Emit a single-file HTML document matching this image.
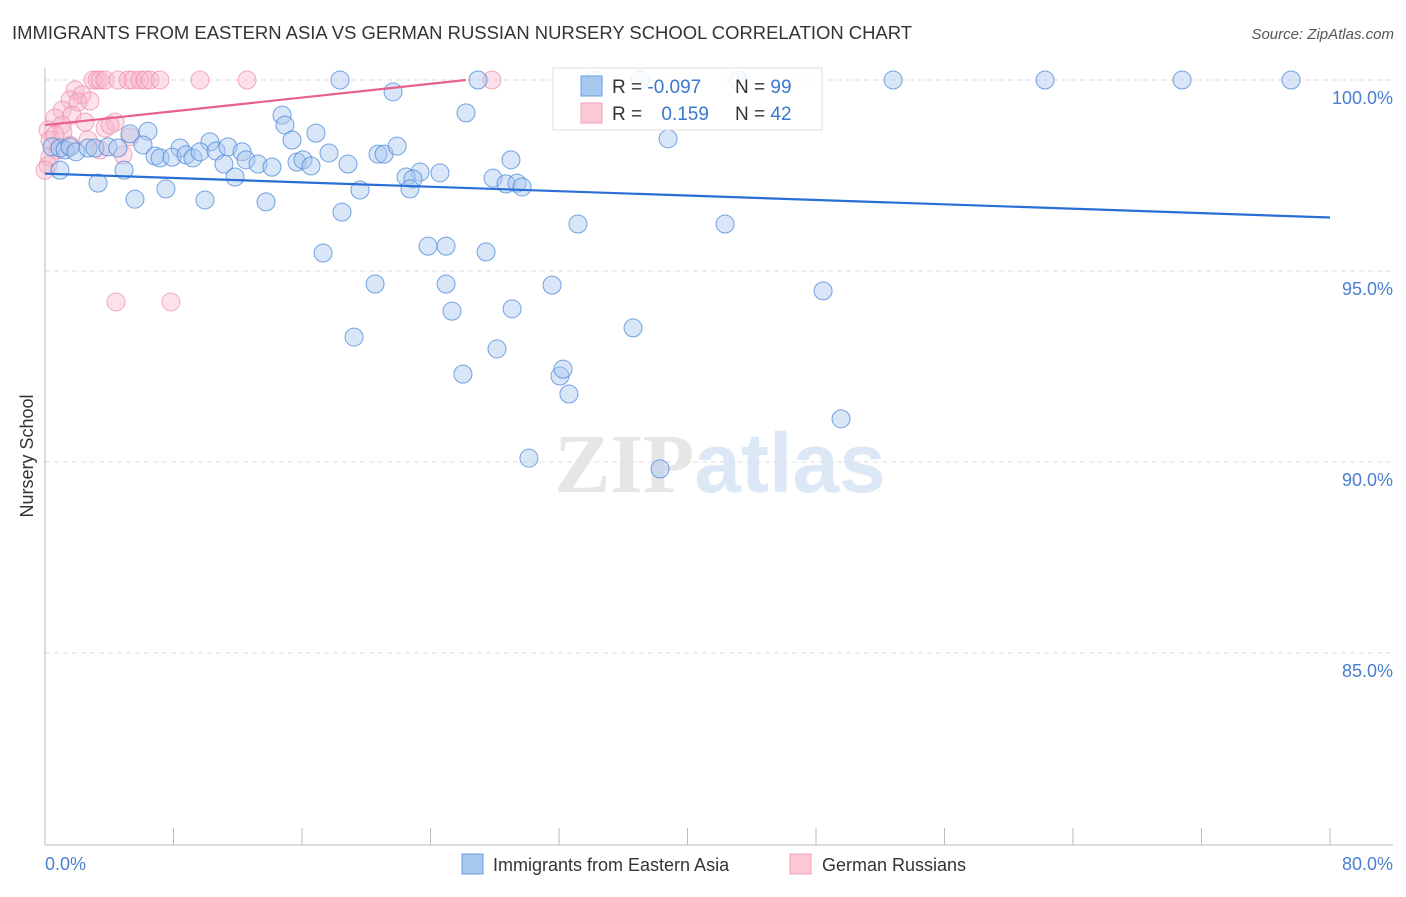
<!DOCTYPE html>
<html><head><meta charset="utf-8"><style>
body{margin:0;background:#fff;font-family:"Liberation Sans",sans-serif;}
svg text{font-family:"Liberation Sans",sans-serif;}
</style></head><body>
<svg id="chart" width="1406" height="892" xmlns="http://www.w3.org/2000/svg">
<text x="12" y="39" font-size="18" fill="#333" textLength="900" lengthAdjust="spacingAndGlyphs">IMMIGRANTS FROM EASTERN ASIA VS GERMAN RUSSIAN NURSERY SCHOOL CORRELATION CHART</text>
<text x="1394" y="39" font-size="15" fill="#555" font-style="italic" text-anchor="end">Source: ZipAtlas.com</text>
<text x="720" y="492" font-size="84" text-anchor="middle"><tspan fill="#e6e6e6" font-family="Liberation Serif" font-weight="bold">ZIP</tspan><tspan fill="#dde8f6" font-weight="bold">atlas</tspan></text>
<text transform="translate(33,456) rotate(-90)" font-size="18" fill="#333" text-anchor="middle">Nursery School</text>
<g id="grid"></g><g id="axes"></g><g id="pink"></g><g id="blue"></g><g id="trends"></g>
<g>
<rect x="553" y="68" width="269" height="62" fill="#fff" fill-opacity="0.85" stroke="#ddd"/>
<rect x="581" y="76" width="21" height="20" fill="#a9c8f0" stroke="#6a9ee0"/>
<rect x="581" y="103" width="21" height="20" fill="#fcc8d6" stroke="#f0a0b8"/>
<text x="612" y="93" font-size="19" fill="#333">R = <tspan fill="#3a78d0">-0.097</tspan></text>
<text x="735" y="93" font-size="19" fill="#333">N = <tspan fill="#3a78d0">99</tspan></text>
<text x="612" y="120" font-size="19" fill="#333">R = <tspan fill="#3a78d0" dx="14">0.159</tspan></text>
<text x="735" y="120" font-size="19" fill="#333">N = <tspan fill="#3a78d0">42</tspan></text>
</g>
<g>
<rect x="462" y="854" width="21" height="20" fill="#a9c8f0" stroke="#6a9ee0"/>
<text x="493" y="871" font-size="18" fill="#333">Immigrants from Eastern Asia</text>
<rect x="790" y="854" width="21" height="20" fill="#fcc8d6" stroke="#f0a0b8"/>
<text x="822" y="871" font-size="18" fill="#333">German Russians</text>
</g>
</svg>
<script>
const blueX=[18.37,34.18,37.04,43.15,52.80,62.26,70.79,77.58,26.96,21.67,26.21,14.76,14.94,6.41,5.29,16.87,10.27,15.38,38.79,0.44,0.93,1.25,1.56,1.93,2.68,3.11,3.92,4.54,6.10,8.41,6.85,7.16,7.91,8.78,9.21,9.65,10.65,11.39,12.27,12.51,11.14,13.26,14.13,11.83,15.69,16.06,16.56,17.68,18.86,20.73,21.11,21.92,29.01,23.35,24.59,22.48,22.91,22.72,19.61,27.89,28.70,29.39,29.70,3.30,7.53,5.60,9.96,13.76,18.49,33.18,42.34,23.85,24.97,27.46,17.31,20.55,24.97,31.57,48.44,25.34,29.08,36.61,19.24,28.14,26.02,32.06,32.25,32.62,49.56,30.13,38.29,4.92,0.93];
const blueY=[100,100,100,100,100,100,100,100,100,99.69,99.14,99.08,98.82,98.66,98.59,98.61,98.38,98.43,98.46,98.25,98.22,98.17,98.25,98.12,98.22,98.22,98.25,98.22,98.30,98.22,98.01,97.96,97.98,98.04,97.96,98.12,98.14,98.25,98.12,97.91,97.80,97.80,97.72,97.46,97.85,97.91,97.75,98.09,97.80,98.06,98.06,98.27,97.91,97.59,97.57,97.46,97.41,97.15,97.12,97.43,97.28,97.30,97.20,97.30,97.15,96.88,96.86,96.81,96.54,96.23,96.23,95.65,95.65,95.50,95.47,94.66,94.66,94.63,94.48,93.95,94.01,93.51,93.27,92.96,92.30,92.25,92.43,91.78,91.13,90.10,89.82,97.64,97.64];
const pinkX=[2.99,3.24,3.42,3.74,4.54,5.17,5.48,5.91,6.23,6.54,7.16,9.65,12.58,27.83,1.87,2.30,1.56,2.05,2.80,1.06,1.68,0.62,2.49,4.36,3.74,0.19,1.06,0.31,5.29,0.81,1.56,2.68,3.42,4.86,0.19,0.31,4.42,7.84,0,1.12,4.05,0.62];
const pinkY=[100,100,100,100,100,100,100,100,100,100,100,100,100,100,99.74,99.61,99.48,99.42,99.45,99.21,99.08,99.01,98.90,98.90,98.74,98.69,98.82,98.43,98.51,98.17,98.30,98.43,98.17,98.04,97.77,97.98,94.19,94.19,97.64,98.64,98.82,98.56];
const blueTrend=[[0,97.55],[80,96.40]];
const pinkTrend=[[0,98.82],[26.2,100]];
const yTicks=[100,95,90,85];
const yTickLabels=["100.0%","95.0%","90.0%","85.0%"];
const xTicks=[0,8,16,24,32,40,48,56,64,72,80];
const xTickLabels=["0.0%","80.0%"];
const NS="http://www.w3.org/2000/svg";
const sx=v=>45+v/80*1285;
const sy=v=>80+(100-v)*38.2;
function mk(tag,attrs,parent){const e=document.createElementNS(NS,tag);for(const k in attrs)e.setAttribute(k,attrs[k]);document.getElementById(parent).appendChild(e);return e;}
yTicks.forEach((t,i)=>{
 const l=mk('line',{x1:45,x2:1393,y1:sy(t),y2:sy(t),stroke:'#ddd','stroke-dasharray':'5,4'},'grid');
 
 
 const tx=mk('text',{x:1393,y:sy(t)+24,'font-size':18,fill:'#4a7fd0','text-anchor':'end'},'grid');
 tx.textContent=yTickLabels[i];
 
 
});
let a=mk('line',{x1:45,x2:45,y1:68,y2:845,stroke:'#bbb'},'axes');


a=mk('line',{x1:45,x2:1393,y1:845,y2:845,stroke:'#bbb'},'axes');


xTicks.forEach(t=>{
 const l=mk('line',{x1:sx(t),x2:sx(t),y1:828,y2:845,stroke:'#bbb'},'axes');
 
 
});
let t1=mk('text',{x:45,y:870,'font-size':18,fill:'#4a7fd0'},'axes');t1.textContent=xTickLabels[0];


let t2=mk('text',{x:1393,y:870,'font-size':18,fill:'#4a7fd0','text-anchor':'end'},'axes');t2.textContent=xTickLabels[1];


pinkX.forEach((x,i)=>{
 const c=mk('circle',{cx:sx(x),cy:sy(pinkY[i]),r:9,fill:'#f8b4c8','fill-opacity':0.4,stroke:'#ee8aa8','stroke-opacity':0.7},'pink');
 
 
});
blueX.forEach((x,i)=>{
 const c=mk('circle',{cx:sx(x),cy:sy(blueY[i]),r:9,fill:'#a9c8f0','fill-opacity':0.45,stroke:'#4a86d8','stroke-opacity':0.75},'blue');
 
 
});
let tr=mk('line',{x1:sx(blueTrend[0][0]),y1:sy(blueTrend[0][1]),x2:sx(blueTrend[1][0]),y2:sy(blueTrend[1][1]),stroke:'#2a6fd6','stroke-width':2.2},'trends');


tr=mk('line',{x1:sx(pinkTrend[0][0]),y1:sy(pinkTrend[0][1]),x2:sx(pinkTrend[1][0]),y2:sy(pinkTrend[1][1]),stroke:'#e8608c','stroke-width':2.2},'trends');


</script>
</body></html>
